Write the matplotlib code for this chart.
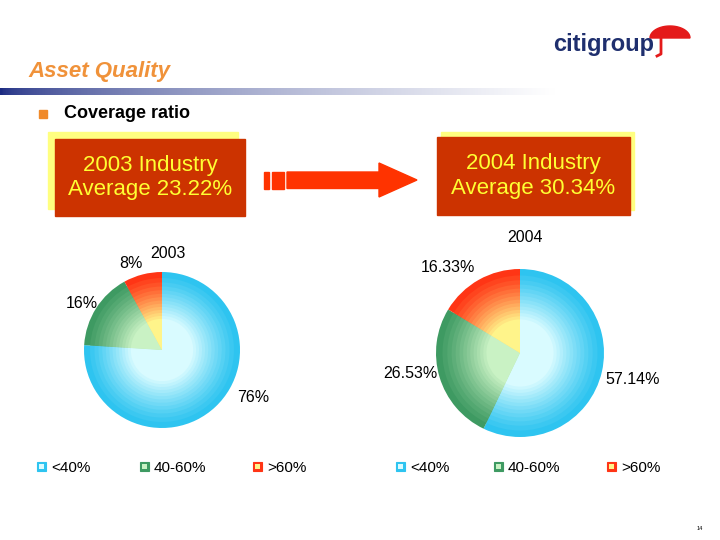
import numpy as np
import matplotlib
matplotlib.use("Agg")
import matplotlib.pyplot as plt
from matplotlib.patches import Rectangle, Polygon
from matplotlib.colors import to_rgb

plt.rcParams['font.family'] = ['Liberation Sans', 'DejaVu Sans']

# data
categories = ['<40%', '40-60%', '>60%']
share_2003 = [76, 16, 8]
share_2004 = [57.14, 26.53, 16.33]
labels_2003 = ['76%', '16%', '8%']
labels_2004 = ['57.14%', '26.53%', '16.33%']
industry_avg = {'2003': '23.22%', '2004': '30.34%'}

outer_cols = ['#2ec4f0', '#3e9a62', '#ff3515']
inner_cols = ['#d9fbff', '#c9f2c4', '#fff48a']

W, H = 720, 540
fig = plt.figure(figsize=(7.2, 5.4), dpi=100)
bg = fig.add_axes([0, 0, 1, 1])

# gradient rule under the title
grad = np.linspace(0, 1, 256)
navy = np.array(to_rgb('#1c2b82'))
img = np.array([navy + (1 - navy) * min(1, g * 1.3) ** 0.6 for g in grad])[None, :, :]
bg.imshow(img, extent=[0, W, 95, 88], aspect='auto', zorder=0)
bg.set_xlim(0, W)
bg.set_ylim(H, 0)
bg.axis('off')

# logo
bg.text(553, 45, 'citigroup', fontsize=17, color='#1f2f6e', fontweight='bold',
        va='center', ha='left')
th = np.linspace(np.pi, 2 * np.pi, 40)
canopy = np.column_stack([670 + 20 * np.cos(th), 38 + 12 * np.sin(th)])
bg.add_patch(Polygon(canopy, color='#e41a1a'))
bg.plot([661, 661, 657], [38, 54, 56], color='#e41a1a', lw=2)

# title
bg.text(28, 72, 'Asset Quality', fontsize=16, color='#f0923a', fontweight='bold',
        fontstyle='italic', va='center')

# bullet
bg.add_patch(Rectangle((39, 110), 8, 8, color='#f08a2a'))
bg.text(64, 114, 'Coverage ratio', fontsize=13, fontweight='bold', va='center')

# industry boxes
def avg_box(x0, y0, w, h, dx, dy, year):
    bg.add_patch(Rectangle((x0 + dx, y0 + dy), w, h, color='#ffff80', zorder=1))
    bg.add_patch(Rectangle((x0, y0), w, h, color='#cc3300', zorder=2))
    bg.text(x0 + w / 2, y0 + h / 2, f'{year} Industry\nAverage {industry_avg[year]}',
            color='#ffff33', fontsize=16, ha='center', va='center',
            linespacing=1.2, zorder=3)

avg_box(55, 139, 190, 77, -7, -7, '2003')
avg_box(437, 137, 193, 78, 4, -5, '2004')

# arrow
bg.add_patch(Rectangle((264, 172), 4.5, 16.5, color='#ff3300'))
bg.add_patch(Rectangle((272, 172), 11.5, 16.5, color='#ff3300'))
bg.add_patch(Polygon([(287, 172), (379, 172), (379, 163), (417, 180), (379, 197),
                      (379, 188.5), (287, 188.5)], color='#ff3300'))


def shaded_pie(ax, values):
    n = 14
    for i in range(n):
        t = i / (n - 1)
        cols = [tuple(np.array(to_rgb(o)) * (1 - t) + np.array(to_rgb(c)) * t)
                for o, c in zip(outer_cols, inner_cols)]
        ax.pie(values, colors=cols, startangle=90, counterclock=False,
               radius=1 - 0.6 * t ** 0.8,
               wedgeprops=dict(linewidth=0))
    ax.set_xlim(-1, 1)
    ax.set_ylim(-1, 1)
    ax.set_aspect('equal')
    ax.axis('off')


def pie_axes(cx, cy, r):
    return fig.add_axes([(cx - r) / W, (H - cy - r) / H, 2 * r / W, 2 * r / H])

ax1 = pie_axes(162, 350, 78)
shaded_pie(ax1, share_2003)
ax2 = pie_axes(520, 353, 84)
shaded_pie(ax2, share_2004)

# pie labels
fs = 11.5
bg.text(168, 254, '2003', fontsize=fs, ha='center', va='center')
bg.text(131, 263, labels_2003[2], fontsize=fs, ha='center', va='center')
bg.text(82, 304, labels_2003[1], fontsize=fs, ha='center', va='center')
bg.text(253, 397, labels_2003[0], fontsize=fs, ha='center', va='center')
bg.text(525, 238, '2004', fontsize=fs, ha='center', va='center')
bg.text(448, 267, labels_2004[2], fontsize=fs, ha='center', va='center')
bg.text(410, 374, labels_2004[1], fontsize=fs, ha='center', va='center')
bg.text(633, 380, labels_2004[0], fontsize=fs, ha='center', va='center')

# small marks inside pies
bg.plot([127, 127], [317, 323], color='black', lw=1.2)
bg.plot([154, 163], [351, 351], color='black', lw=1.5)
bg.plot([468, 493], [353, 353], color='black', lw=1.5)

# legends
def legend_row(xs):
    for x, lab, oc, ic in zip(xs, categories, outer_cols, inner_cols):
        bg.add_patch(Rectangle((x - 5, 462), 9, 9, facecolor=oc, edgecolor=oc, lw=0.8))
        bg.add_patch(Rectangle((x - 3, 464), 5, 5, facecolor=ic, lw=0))
        bg.text(x + 9, 468, lab, fontsize=11, va='center', ha='left')

legend_row([42, 145, 258])
legend_row([401, 499, 612])

bg.text(700, 528, '14', fontsize=4, ha='center', va='center')

fig.savefig('out.png', dpi=100)
